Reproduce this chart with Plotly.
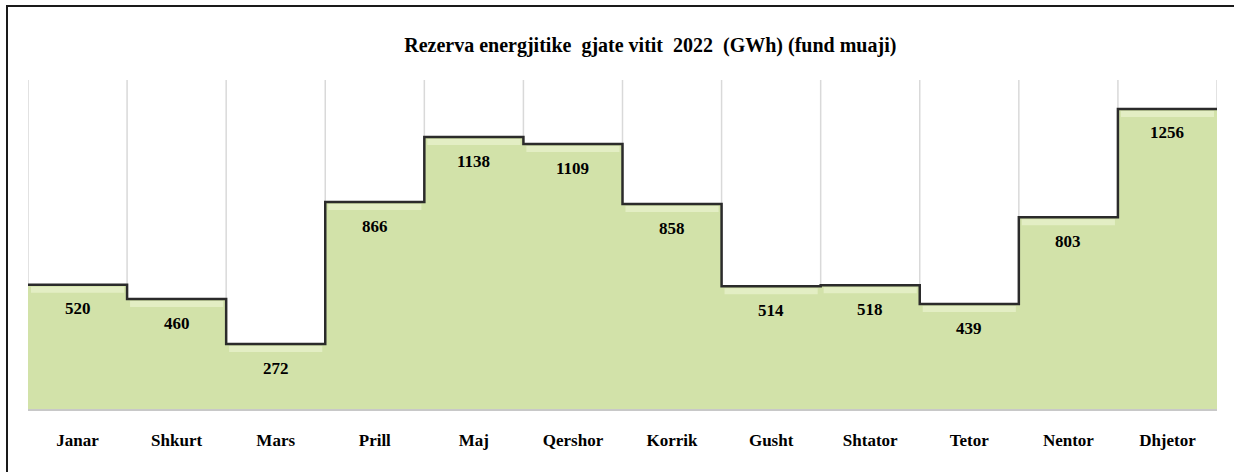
import plotly.graph_objects as go

months = ["Janar", "Shkurt", "Mars", "Prill", "Maj", "Qershor",
          "Korrik", "Gusht", "Shtator", "Tetor", "Nentor", "Dhjetor"]
reserve_gwh = [520, 460, 272, 866, 1138, 1109, 858, 514, 518, 439, 803, 1256]
title_text = "Rezerva energjitike  gjate vitit  2022  (GWh) (fund muaji)"

FONT = "Liberation Serif"
n = len(months)
Y_MAX = 1377
PLOT_H = 329  # px height of plotting area
px_to_units = Y_MAX / PLOT_H

# step edges: each month occupies [i, i+1]
x_edges = list(range(n + 1))
y_edges = reserve_gwh + [reserve_gwh[-1]]
centers = [i + 0.5 for i in range(n)]

fig = go.Figure()

fig.add_trace(go.Scatter(
    x=x_edges, y=y_edges,
    mode="lines",
    line=dict(shape="hv", color="rgba(0,0,0,0)", width=0),
    fill="tozeroy",
    fillcolor="#d2e2a9",
    hoverinfo="skip",
    showlegend=False,
))

# bevel highlight just under each step's top edge
hx, hy = [], []
for i, v in enumerate(reserve_gwh):
    hx += [i + 0.03, i + 0.97, None]
    hy += [v - 5 * px_to_units, v - 5 * px_to_units, None]
fig.add_trace(go.Scatter(
    x=hx, y=hy, mode="lines",
    line=dict(color="#e3eec4", width=6),
    hoverinfo="skip", showlegend=False,
))

# dark step outline on top
fig.add_trace(go.Scatter(
    x=x_edges, y=y_edges,
    mode="lines",
    line=dict(shape="hv", color="#2b2b2b", width=2.5),
    hoverinfo="skip",
    showlegend=False,
))

for c, v in zip(centers, reserve_gwh):
    fig.add_annotation(
        x=c, y=v, xref="x", yref="y",
        text=f"<b>{v}</b>", showarrow=False,
        yshift=-24,
        font=dict(family=FONT, size=17, color="#000000"),
    )

fig.update_layout(
    width=1234, height=472,
    margin=dict(l=28, r=17, t=80, b=63),
    paper_bgcolor="white",
    plot_bgcolor="white",
    showlegend=False,
    title=dict(
        text=f"<b>{title_text}</b>",
        x=0.527, xanchor="center",
        y=1 - 45 / 472, yanchor="middle",
        font=dict(family=FONT, size=20, color="#000000"),
    ),
    xaxis=dict(
        range=[0, n],
        tickvals=centers,
        ticktext=[f"<b>{m}</b>" for m in months],
        tickfont=dict(family=FONT, size=17, color="#000000"),
        showgrid=False,
        zeroline=False,
        showline=True, linecolor="#c8c8c8", linewidth=2,
        ticks="", ticklabelstandoff=15,
        fixedrange=True,
    ),
    yaxis=dict(
        range=[0, Y_MAX],
        showticklabels=False,
        showgrid=False,
        zeroline=False,
        fixedrange=True,
    ),
)

# vertical category separators (gridlines between months)
for xe in x_edges:
    fig.add_shape(type="line", xref="x", yref="paper",
                  x0=xe, x1=xe, y0=0, y1=1,
                  line=dict(color="#d9d9d9", width=1.5), layer="below")

# outer chart border (extends past right/bottom edges as in the reference)
fig.add_shape(type="rect", xref="paper", yref="paper",
              x0=-21 / 1189, x1=1.2, y0=-0.5, y1=(PLOT_H + 74) / PLOT_H,
              line=dict(color="#1a1a1a", width=2), fillcolor="rgba(0,0,0,0)")

fig.write_html("out.html",
               config={"displayModeBar": False},
               post_script="document.body.style.margin='0';document.body.style.padding='0';")
